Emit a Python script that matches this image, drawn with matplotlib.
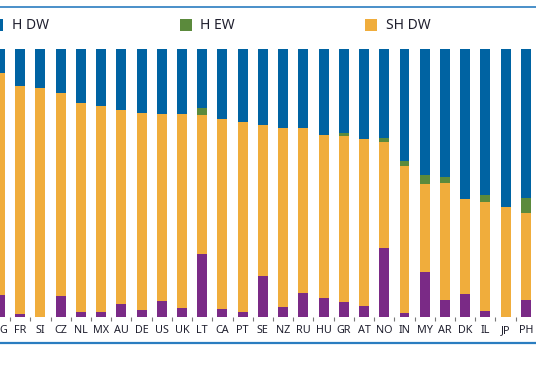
import matplotlib
matplotlib.use("Agg")
import matplotlib.pyplot as plt
from matplotlib.lines import Line2D
from matplotlib.patches import Rectangle
import numpy as np

countries = ["BG", "FR", "SI", "CZ", "NL", "MX", "AU", "DE", "US", "UK", "LT", "CA", "PT",
             "SE", "NZ", "RU", "HU", "GR", "AT", "NO", "IN", "MY", "AR", "DK", "IL", "JP", "PH"]
h_dw = [9.0, 14.0, 14.4, 16.6, 20.3, 21.3, 22.8, 23.8, 24.3, 24.3, 22.2, 26.0, 27.3,
        28.3, 29.4, 29.4, 32.0, 31.5, 33.6, 33.4, 42.0, 47.0, 47.8, 55.9, 54.7, 59.2, 55.8]
h_ew = [0, 0, 0, 0, 0, 0, 0, 0, 0, 0, 2.5, 0, 0,
        0, 0, 0, 0, 1.0, 0, 1.4, 1.6, 3.4, 2.1, 0, 2.4, 0, 5.6]
sh_dw = [82.9, 85.0, 85.6, 75.7, 77.8, 76.8, 72.5, 73.8, 70.0, 72.3, 52.0, 71.3, 71.1,
         56.5, 67.1, 61.9, 60.9, 61.9, 62.3, 39.7, 55.2, 32.9, 44.0, 35.6, 40.9, 40.8, 32.5]
other = [8.1, 1.0, 0, 7.7, 1.9, 1.9, 4.7, 2.4, 5.7, 3.4, 23.3, 2.7, 1.6,
         15.2, 3.5, 8.7, 7.1, 5.6, 4.1, 25.5, 1.2, 16.7, 6.1, 8.5, 2.0, 0, 6.1]

BLUE = "#0063a2"
GREEN = "#5b8a3c"
YELLOW = "#f0ad3c"
PURPLE = "#7a2a86"
RULE = "#2a7dc0"
TEXT = "#1f1f2e"

plt.rcParams["font.family"] = ["Noto Sans", "DejaVu Sans"]

W, H = 536, 386
fig = plt.figure(figsize=(W / 100, H / 100), dpi=100)

# bar pitch ~20.35 px, first (BG) bar centred at x = -3.35 px
pitch = 20.35
x0 = -3.35
ax_bottom, ax_top = 316.7, 49.0
ax = fig.add_axes([0, (H - ax_bottom) / H, 1, (ax_bottom - ax_top) / H])

x = np.arange(len(countries))
width = 10.0 / pitch
bottom = np.zeros(len(countries))
for values, color in [(other, PURPLE), (sh_dw, YELLOW), (h_ew, GREEN), (h_dw, BLUE)]:
    ax.bar(x, values, width=width, bottom=bottom, color=color, linewidth=0)
    bottom += np.asarray(values)

ax.set_xlim(-x0 / pitch, -x0 / pitch + W / pitch)
ax.set_ylim(0, 100)
for side in ax.spines.values():
    side.set_visible(False)
ax.set_yticks([])
ax.set_xticks(x)
ax.set_xticklabels(countries, fontsize=7.8, color=TEXT)
ax.set_xticks(x[:-1] + 0.5, minor=True)
ax.tick_params(axis="x", which="major", length=0, pad=6.2)
ax.tick_params(axis="x", which="minor", length=3, width=0.8, color="#777777")

# top and bottom rules
fig.add_artist(Line2D([0, 1], [(H - 6.5) / H] * 2, color=RULE, linewidth=1.2))
fig.add_artist(Line2D([0, 1], [(H - 342.5) / H] * 2, color=RULE, linewidth=1.6))

# legend entries drawn by hand (part of the legend is cut off)
legend = [("H DW", BLUE, -9, 12), ("H EW", GREEN, 180, 200), ("SH DW", YELLOW, 365, 386)]
for label, color, sq_x, tx in legend:
    fig.add_artist(Rectangle((sq_x / W, (H - 31) / H), 12 / W, 12 / H,
                             transform=fig.transFigure, color=color, linewidth=0))
    fig.text(tx / W, (H - 25.5) / H, label, fontsize=10, va="center", ha="left",
             color=TEXT)

fig.savefig("out.png", dpi=100)
